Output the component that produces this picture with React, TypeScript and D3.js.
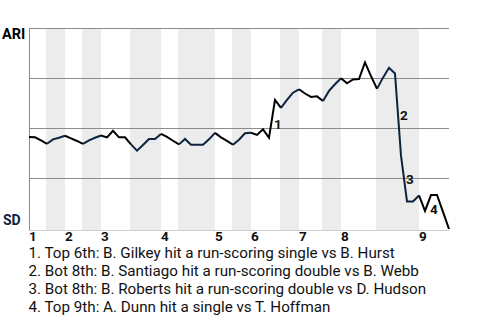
import React from "react";
import * as d3 from "d3";

// ARI win probability (%) after each play (index 0 = first pitch)
const winProb: number[] = [
  45.8, 45.6, 44.1, 42.4, 44.6, 45.4, 46.4, 45.1, 43.8, 42.3,
  44.1, 45.4, 46.5, 45.6, 48.9, 45.6, 45.6, 42.1, 39.0, 41.8,
  44.8, 44.8, 47.3, 45.8, 43.9, 42.1, 44.8, 41.9, 41.9, 41.9,
  44.6, 47.8, 45.6, 43.8, 41.9, 44.4, 47.6, 47.9, 46.8, 49.6,
  45.4, 64.2, 60.3, 64.2, 67.8, 69.5, 67.4, 65.7, 66.0, 63.7,
  68.7, 72.0, 75.0, 72.5, 74.4, 74.6, 82.9, 76.1, 69.7, 75.3,
  80.2, 77.4, 36.5, 13.7, 13.7, 16.7, 9.0, 16.9, 16.9, 8.5,
  0,
];

// plays per half inning: top1, bot1, top2, bot2, ...
const halfInningPlays: number[] = [3, 3, 3, 3, 5, 5, 3, 6, 3, 3, 5, 3, 4, 3, 6, 7, 5];
const inningLabels: string[] = ["1", "2", "3", "4", "5", "6", "7", "8", "9"];
const yTicks: number[] = [25, 50, 75, 100];

const teams: string[] = ["ARI", "SD"];
const teamColors: string[] = ["#000000", "#0c2340"];

// key plays: play index (end of segment) and description
const eventPlays: number[] = [41, 62, 63, 67];
const eventTexts: string[] = [
  "Top 6th: B. Gilkey hit a run-scoring single vs B. Hurst",
  "Bot 8th: B. Santiago hit a run-scoring double vs B. Webb",
  "Bot 8th: B. Roberts hit a run-scoring double vs D. Hudson",
  "Top 9th: A. Dunn hit a single vs T. Hoffman",
];
const eventLabelDy: number[] = [10.5, 5.5, 5.5, 11.5];

const W = 480;
const H = 320;
const L = 29;
const R = 449;
const T = 28;
const B = 229;

export default function App() {
  const n = winProb.length - 1;
  const x = d3.scaleLinear().domain([0, n]).range([L, R]);
  const y = d3.scaleLinear().domain([0, 100]).range([B, T]);

  // half-inning boundaries
  const starts: number[] = [];
  let acc = 0;
  halfInningPlays.forEach((c) => {
    starts.push(acc);
    acc += c;
  });
  const halves = halfInningPlays.map((c, i) => ({ start: starts[i], end: starts[i] + c, bottom: i % 2 === 1 }));

  // line segments grouped by half inning (colored by batting team)
  const segs = halves.map((h) => {
    const pts = winProb.slice(h.start, h.end + 1);
    const path = d3
      .line<number>()
      .x((_, i) => x(h.start + i))
      .y((d) => y(d))(pts);
    return { path, color: h.bottom ? teamColors[1] : teamColors[0] };
  });

  const font = "Roboto, 'Noto Sans', sans-serif";

  return (
    <svg width={W} height={H} style={{ position: "absolute", left: 0, top: 0, background: "#fff" }} fontFamily={font}>
      {halves
        .filter((h) => h.bottom)
        .map((h, i) => (
          <rect key={i} x={x(h.start) - 1} y={T} width={x(h.end) - x(h.start) + 1} height={B - T + 1} fill="#ececec" />
        ))}
      {yTicks.map((t) => (
        <line key={t} x1={L} x2={R} y1={Math.floor(y(t)) + 0.5} y2={Math.floor(y(t)) + 0.5} stroke="#8c8c8c" strokeWidth={1} />
      ))}
      <line x1={L + 0.5} x2={L + 0.5} y1={T} y2={B + 2} stroke="#8c8c8c" strokeWidth={1} />
      <line x1={L} x2={R} y1={B + 1.5} y2={B + 1.5} stroke="#cccccc" strokeWidth={1} />
      {segs.map((s, i) => (
        <path key={i} d={s.path || ""} fill="none" stroke={s.color} strokeWidth={2} strokeLinejoin="miter" />
      ))}
      {eventPlays.map((p, i) => {
        const mx = (x(p - 1) + x(p)) / 2;
        const my = (y(winProb[p - 1]) + y(winProb[p])) / 2;
        return (
          <text key={i} x={mx + 2} y={my + eventLabelDy[i]} fontSize={13.5} fontWeight="bold" fill="#111">
            {i + 1}
          </text>
        );
      })}
      <text x={2} y={39} fontSize={14.5} fontWeight="bold" fill={teamColors[0]}>
        {teams[0]}
      </text>
      <text x={3} y={225} fontSize={14} fontWeight="bold" fill={teamColors[1]}>
        {teams[1]}
      </text>
      {inningLabels.map((lab, i) => (
        <text key={lab} x={x(halves[i * 2].start)} y={241} fontSize={13.5} fontWeight="bold" fill="#111">
          {lab}
        </text>
      ))}
      {eventTexts.map((t, i) => (
        <text key={i} x={28.5} y={258 + i * 18} fontSize={15.2} fill="#111">
          {`${i + 1}. ${t}`}
        </text>
      ))}
    </svg>
  );
}
